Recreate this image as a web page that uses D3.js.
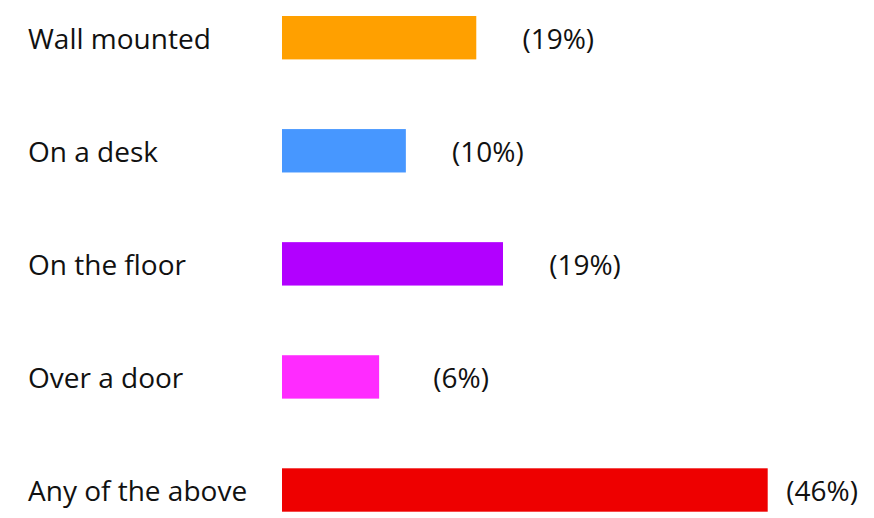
<!DOCTYPE html>
<html>
<head>
<meta charset="utf-8">
<script src="https://cdn.jsdelivr.net/npm/d3@7"></script>
<style>
  html, body { margin: 0; padding: 0; background: #fff; }
  svg { display: block; }
  text { font-family: "Open Sans", sans-serif; fill: #111; }
</style>
</head>
<body>
<svg id="chart" width="874" height="518"></svg>
<script>
const categories = ["Wall mounted", "On a desk", "On the floor", "Over a door", "Any of the above"];
const values = [8, 5.1, 9.1, 4, 20];
const percentLabels = ["(19%)", "(10%)", "(19%)", "(6%)", "(46%)"];
const colors = ["#ffa000", "#4797ff", "#b200ff", "#ff2bff", "#ee0000"];

const W = 874, H = 518;
const svg = d3.select("#chart");

const x = d3.scaleLinear().domain([0, d3.max(values)]).range([282, 767.7]);
const y = d3.scalePoint().domain(categories).range([37.7, 490]);
const barH = 43.4;
const fontSize = 28;

const rows = categories.map((c, i) => ({ cat: c, v: values[i], lab: percentLabels[i], col: colors[i] }));

const g = svg.append("g");

g.selectAll("rect.bar").data(rows).join("rect")
  .attr("class", "bar")
  .attr("x", x(0))
  .attr("y", d => y(d.cat) - barH / 2)
  .attr("width", d => x(d.v) - x(0))
  .attr("height", barH)
  .attr("fill", d => d.col);

g.selectAll("text.cat").data(rows).join("text")
  .attr("class", "cat")
  .attr("x", 28)
  .attr("y", d => y(d.cat))
  .attr("dy", "0.4em")
  .style("font-size", fontSize + "px")
  .text(d => d.cat);

const vl = g.selectAll("text.val").data(rows).join("text")
  .attr("class", "val")
  .attr("x", d => x(d.v) + 82)
  .attr("y", d => y(d.cat))
  .attr("dy", "0.4em")
  .attr("text-anchor", "middle")
  .style("font-size", fontSize + "px")
  .text(d => d.lab);

vl.each(function(d) {
  const bb = this.getBBox();
  if (bb.x + bb.width > W - 16) {
    d3.select(this).attr("text-anchor", "end").attr("x", W - 16);
  }
});
</script>
</body>
</html>
